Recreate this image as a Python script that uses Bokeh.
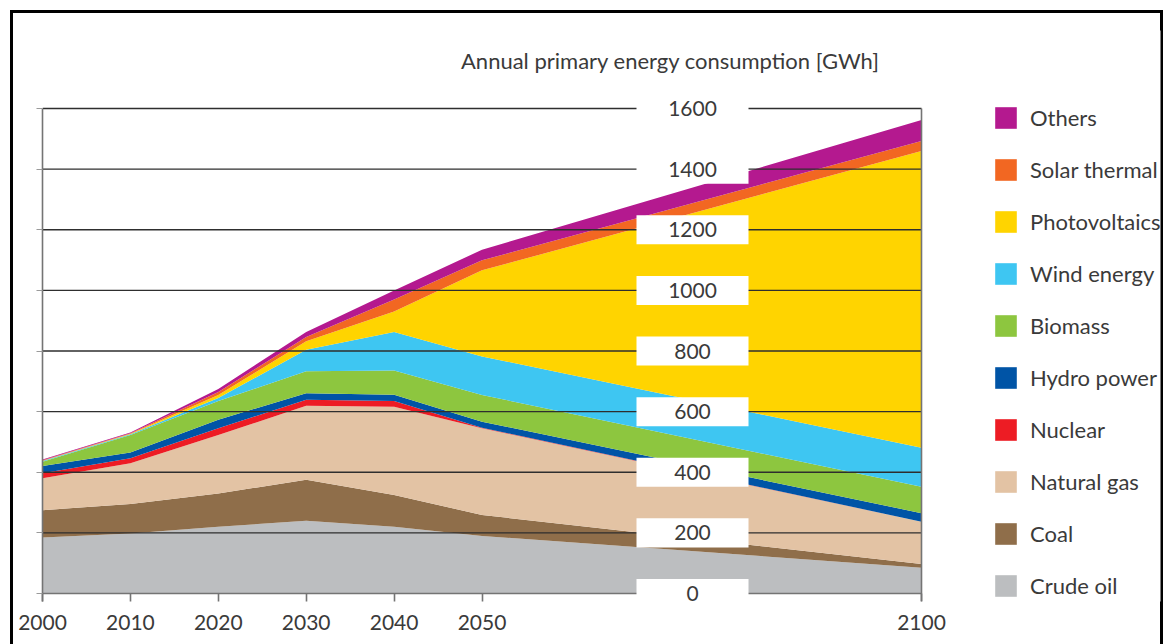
from bokeh.plotting import figure
from bokeh.models import (ColumnDataSource, Legend, LegendItem, FixedTicker,
                          Label, BoxAnnotation, Range1d)
from bokeh.embed import file_html
from bokeh.resources import INLINE

# ---------------- data ----------------
years = [2000, 2010, 2020, 2030, 2040, 2050, 2100]
crude_oil     = [185, 198, 220, 240, 220, 190, 85]
coal          = [90, 97, 110, 135, 105, 69, 12]
natural_gas   = [105, 135, 193, 244, 291, 286, 140]
nuclear       = [17, 16, 22, 20, 19, 2, 0]
hydro_power   = [24, 19, 28, 22, 21, 20, 28]
biomass       = [14, 58, 62, 72, 80, 88, 87]
wind_energy   = [2, 2, 10, 71, 127, 127, 129]
photovoltaics = [1, 2, 10, 28, 67, 284, 979]
solar_thermal = [2, 2, 10, 14, 40, 33, 33]
others        = [2, 2, 10, 17, 30, 35, 69]

categories = ["Crude oil", "Coal", "Natural gas", "Nuclear", "Hydro power",
              "Biomass", "Wind energy", "Photovoltaics", "Solar thermal", "Others"]
keys = ["crude_oil", "coal", "natural_gas", "nuclear", "hydro_power",
        "biomass", "wind_energy", "photovoltaics", "solar_thermal", "others"]
colors = ["#bcbec0", "#8f6e4a", "#e3c3a4", "#ed1c24", "#0054a6",
          "#8dc63f", "#3ec6f2", "#ffd400", "#f26722", "#b4198f"]

x_ticks = [2000, 2010, 2020, 2030, 2040, 2050, 2100]
y_ticks = [0, 200, 400, 600, 800, 1000, 1200, 1400, 1600]
title_text = "Annual primary energy consumption [GWh]"

# ---------------- layout constants (pixels -> data) ----------------
FONT = "Lato"
TXT = "#3a3a3a"
AX = "#747474"
PX_PER_YEAR = 8.79      # horizontal scale
PX_PER_UNIT = 0.3031    # vertical scale
X0, X1 = x_ticks[0], x_ticks[0] + 1118 / PX_PER_YEAR      # frame also holds the legend
Y0, Y1 = -8 / PX_PER_UNIT, y_ticks[-1] + 78 / PX_PER_UNIT  # frame also holds the title

source = ColumnDataSource(dict(year=years, crude_oil=crude_oil, coal=coal,
                               natural_gas=natural_gas, nuclear=nuclear,
                               hydro_power=hydro_power, biomass=biomass,
                               wind_energy=wind_energy, photovoltaics=photovoltaics,
                               solar_thermal=solar_thermal, others=others))

frame_css = ("linear-gradient(#000,#000) left 10px top 10px / 3px 100% no-repeat, "
             "linear-gradient(#000,#000) left 10px top 10px / calc(100% - 10px) 3px no-repeat, "
             "linear-gradient(#000,#000) right 0px top 10px / 3px 100% no-repeat, #ffffff")

p = figure(width=1163, height=644, title=None,
           x_range=Range1d(X0, X1), y_range=Range1d(Y0, Y1),
           output_backend="svg", toolbar_location=None,
           min_border_left=42, min_border_right=3, min_border_top=30,
           min_border_bottom=43, styles={"background": frame_css})
p.outline_line_color = None
p.background_fill_color = "white"
p.border_fill_color = None
p.xgrid.visible = False
p.ygrid.visible = False

rends = p.varea_stack(keys, x="year", source=source, color=colors)

# horizontal grid lines (over the areas), zero line and right edge
gl = y_ticks[1:]
p.segment(x0=[x_ticks[0]] * len(gl), y0=gl, x1=[x_ticks[-1]] * len(gl), y1=gl,
          line_color="#2e2e2e", line_width=1.3)
p.segment(x0=[x_ticks[0]], y0=[y_ticks[0]], x1=[x_ticks[-1]], y1=[y_ticks[0]],
          line_color=AX, line_width=1.6)
p.segment(x0=[x_ticks[-1]], y0=[Y0], x1=[x_ticks[-1]], y1=[y_ticks[-1]],
          line_color=AX, line_width=1.6)

# left axis: line + small ticks, no labels (labels sit in the chart)
ya = p.yaxis[0]
ya.ticker = FixedTicker(ticks=[], minor_ticks=y_ticks)
ya.bounds = (Y0, y_ticks[-1])
ya.axis_line_color = AX
ya.axis_line_width = 1.6
ya.minor_tick_line_color = "#9a9a9a"
ya.minor_tick_line_width = 1.2
ya.minor_tick_out = 6
ya.minor_tick_in = 0
ya.major_tick_line_color = None

# bottom axis: ticks up to the zero line, year labels
xa = p.xaxis[0]
xa.ticker = FixedTicker(ticks=x_ticks)
xa.bounds = (x_ticks[0], x_ticks[-1])
xa.axis_line_color = None
xa.major_tick_line_color = AX
xa.major_tick_line_width = 1.6
xa.major_tick_in = 8
xa.major_tick_out = 0
xa.minor_tick_line_color = None
xa.major_label_text_font = FONT
xa.major_label_text_font_size = "21px"
xa.major_label_text_color = TXT
xa.major_label_standoff = 13

# title
p.add_layout(Label(x=x_ticks[0] + 628 / PX_PER_YEAR, y=y_ticks[-1] + 48 / PX_PER_UNIT,
                   text=title_text, text_align="center", text_baseline="middle",
                   text_font=FONT, text_font_size="22px", text_color=TXT))

# y tick labels in white boxes in the middle of the chart
bx_l = x_ticks[0] + 594 / PX_PER_YEAR
bx_r = x_ticks[0] + 706 / PX_PER_YEAR
bx_c = x_ticks[0] + 650 / PX_PER_YEAR
half_h = 14.5 / PX_PER_UNIT
for v in y_ticks:
    p.add_layout(BoxAnnotation(left=bx_l, right=bx_r, bottom=v - half_h, top=v + half_h,
                               fill_color="white", fill_alpha=1.0, line_color=None,
                               level="annotation"))
    p.add_layout(Label(x=bx_c, y=v, text=str(v), text_align="center",
                       text_baseline="middle", text_font=FONT, text_font_size="21px",
                       text_color=TXT, level="annotation"))

# legend (inside the wide frame, right of the chart)
items = [LegendItem(label=categories[i], renderers=[rends[i]])
         for i in range(len(categories) - 1, -1, -1)]
legend = Legend(items=items, location=(950, 2), glyph_width=27, glyph_height=27,
                label_height=27, spacing=25, padding=0, margin=0, label_standoff=11,
                border_line_color=None, background_fill_alpha=0,
                label_text_font=FONT, label_text_font_size="22px", label_text_color=TXT)
p.add_layout(legend, "center")

open("out.html", "w").write(file_html(p, INLINE))
